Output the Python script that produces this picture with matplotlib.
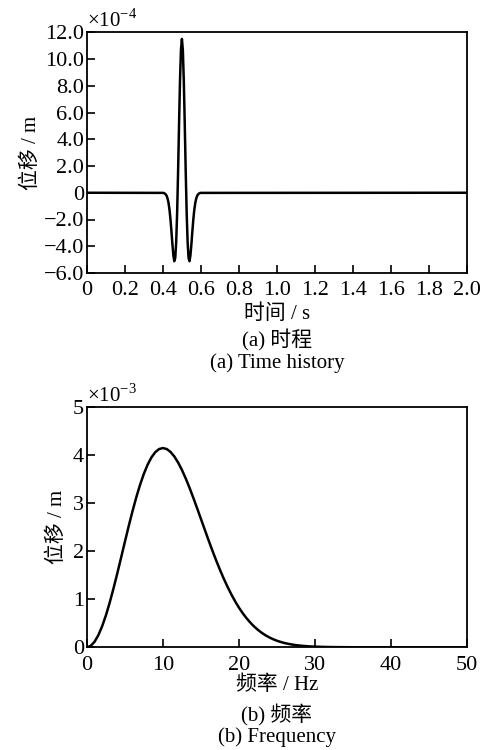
import matplotlib
matplotlib.use('Agg')
import matplotlib.pyplot as plt
from matplotlib.ticker import FuncFormatter

plt.rcParams['font.family'] = ['Liberation Serif', 'Noto Sans CJK SC']
plt.rcParams['mathtext.fontset'] = 'custom'
plt.rcParams['mathtext.rm'] = 'Liberation Serif'
plt.rcParams['axes.unicode_minus'] = True

# time history, displacement in units of 1e-4 m
t = [0.0, 0.40, 0.405, 0.41, 0.415, 0.42, 0.425, 0.43, 0.435, 0.44, 0.445,
     0.45, 0.455, 0.46, 0.465, 0.47, 0.475, 0.48, 0.485, 0.49, 0.495, 0.50,
     0.505, 0.51, 0.515, 0.52, 0.525, 0.53, 0.535, 0.54, 0.545, 0.55, 0.555,
     0.56, 0.565, 0.57, 0.575, 0.58, 0.585, 0.59, 0.595, 0.60, 2.0]
disp = [0.0, -0.01, -0.02, -0.06, -0.12, -0.24, -0.45, -0.79, -1.30, -2.01, -2.89,
        -3.84, -4.67, -5.12, -4.87, -3.67, -1.45, 1.63, 5.12, 8.36, 10.67, 11.5,
        10.67, 8.36, 5.12, 1.63, -1.45, -3.67, -4.87, -5.12, -4.67, -3.84, -2.89,
        -2.01, -1.30, -0.79, -0.45, -0.24, -0.12, -0.06, -0.02, -0.01, 0.0]

# amplitude spectrum, units of 1e-3 m
freq = [0, 0.5, 1, 1.5, 2, 2.5, 3, 3.5, 4, 4.5, 5, 5.5, 6, 6.5, 7, 7.5, 8, 8.5,
        9, 9.5, 10, 10.5, 11, 11.5, 12, 12.5, 13, 13.5, 14, 14.5, 15, 15.5,
        16, 16.5, 17, 17.5, 18, 18.5, 19, 19.5, 20, 20.5, 21, 21.5, 22, 22.5,
        23, 23.5, 24, 24.5, 25, 25.5, 26, 26.5, 27, 27.5, 28, 28.5, 29, 29.5,
        30, 31, 32, 33, 34, 35, 50]
amp = [0.0, 0.028, 0.112, 0.248, 0.434, 0.662, 0.928, 1.223, 1.538, 1.866,
       2.196, 2.522, 2.833, 3.124, 3.386, 3.615, 3.807, 3.957, 4.065, 4.129,
       4.15, 4.130, 4.070, 3.975, 3.849, 3.695, 3.518, 3.323, 3.114, 2.897,
       2.675, 2.453, 2.232, 2.018, 1.812, 1.616, 1.431, 1.260, 1.102, 0.957,
       0.826, 0.709, 0.605, 0.513, 0.432, 0.362, 0.301, 0.249, 0.205, 0.167,
       0.136, 0.110, 0.088, 0.071, 0.056, 0.044, 0.035, 0.027, 0.021, 0.016,
       0.013, 0.007, 0.004, 0.002, 0.001, 0.0, 0.0]

fs_tick = 16
fs = 15


def num_fmt(v, pos):
    if abs(v) < 1e-9:
        return '0'
    s = '%.1f' % v
    return s.replace('-', '\u2212')


def int_fmt(v, pos):
    return '%d' % round(v)


fig = plt.figure(figsize=(4.88, 7.5), dpi=100)
ax1 = fig.add_axes([0.178, 0.636, 0.779, 0.321])
ax2 = fig.add_axes([0.178, 0.137, 0.779, 0.320])

ax1.plot(t, disp, color='black', lw=1.8)
ax1.set_xlim(0, 2.0)
ax1.set_ylim(-6, 12)
ax1.set_xticks([0, 0.2, 0.4, 0.6, 0.8, 1.0, 1.2, 1.4, 1.6, 1.8, 2.0])
ax1.set_yticks([-6, -4, -2, 0, 2, 4, 6, 8, 10, 12])
ax1.xaxis.set_major_formatter(FuncFormatter(num_fmt))
ax1.yaxis.set_major_formatter(FuncFormatter(num_fmt))
ax1.set_ylabel('位移 / m', fontsize=fs, labelpad=2)
ax1.set_xlabel('时间 / s', fontsize=fs, labelpad=3)
ax1.text(0.0, 1.0, '×10$^{-4}$', transform=ax1.transAxes, fontsize=fs,
         ha='left', va='bottom')
ax1.text(0.5, -0.28, '(a) 时程', transform=ax1.transAxes, fontsize=fs,
         ha='center', va='center')
ax1.text(0.5, -0.373, '(a) Time history', transform=ax1.transAxes, fontsize=fs,
         ha='center', va='center')

ax2.plot(freq, amp, color='black', lw=1.8)
ax2.set_xlim(0, 50)
ax2.set_ylim(0, 5)
ax2.set_xticks([0, 10, 20, 30, 40, 50])
ax2.set_yticks([0, 1, 2, 3, 4, 5])
ax2.xaxis.set_major_formatter(FuncFormatter(int_fmt))
ax2.yaxis.set_major_formatter(FuncFormatter(int_fmt))
ax2.set_ylabel('位移 / m', fontsize=fs, labelpad=4)
ax2.set_xlabel('频率 / Hz', fontsize=fs, labelpad=1)
ax2.text(0.0, 1.0, '×10$^{-3}$', transform=ax2.transAxes, fontsize=fs,
         ha='left', va='bottom')
ax2.text(0.5, -0.283, '(b) 频率', transform=ax2.transAxes, fontsize=fs,
         ha='center', va='center')
ax2.text(0.5, -0.373, '(b) Frequency', transform=ax2.transAxes, fontsize=fs,
         ha='center', va='center')

for ax in (ax1, ax2):
    for sp in ax.spines.values():
        sp.set_linewidth(1.3)
    ax.tick_params(direction='in', length=6, width=1.2, labelsize=fs_tick,
                   top=False, right=False, pad=2)
    ax.tick_params(axis='x', pad=6)

fig.savefig('out.png', dpi=100)
